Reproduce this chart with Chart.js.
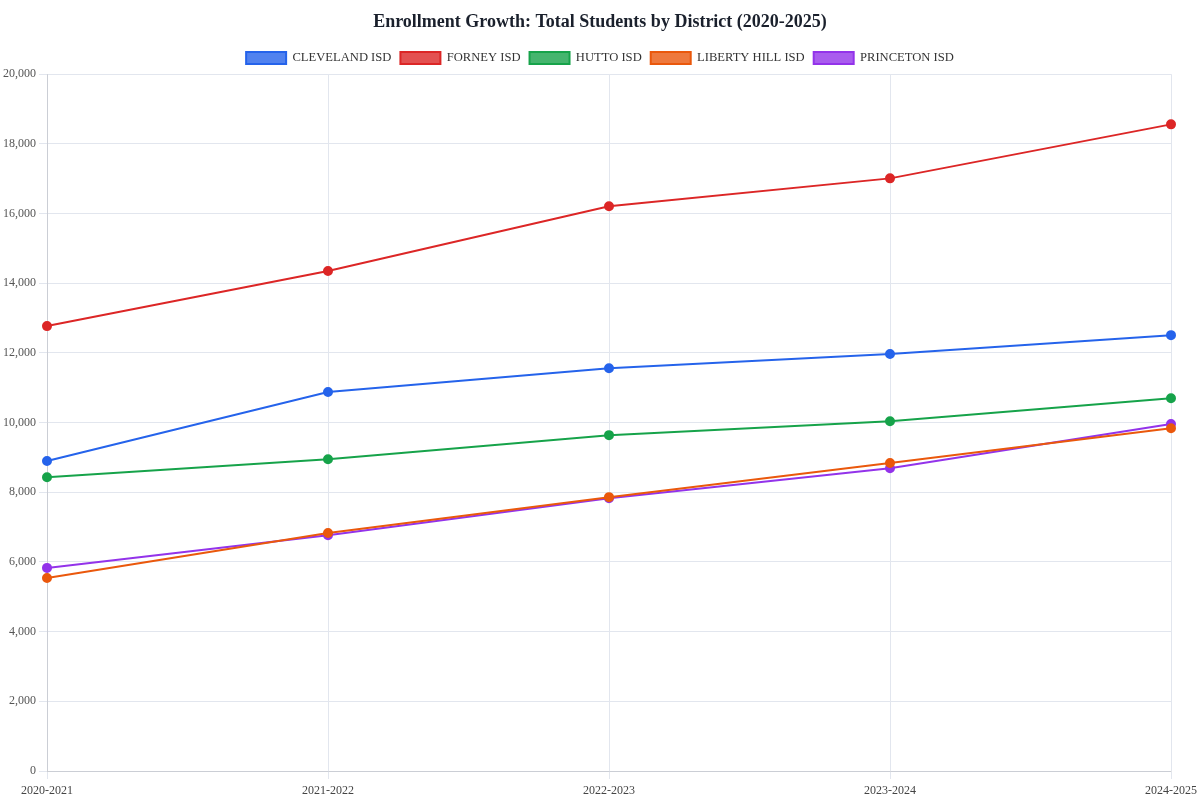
<!DOCTYPE html>
<html>
<head>
<meta charset="utf-8">
<script src="https://cdn.jsdelivr.net/npm/chart.js@4/dist/chart.umd.min.js"></script>
<style>
  html, body { margin: 0; padding: 0; background: #fff; }
  #wrap { width: 1200px; height: 800px; }
</style>
</head>
<body>
<div id="wrap"><canvas id="lineChart"></canvas></div>
<script>
const years = ['2020-2021', '2021-2022', '2022-2023', '2023-2024', '2024-2025'];
const cleveland = [8900, 10880, 11560, 11970, 12510];
const forney = [12770, 14350, 16210, 17010, 18560];
const hutto = [8430, 8950, 9640, 10040, 10700];
const libertyHill = [5540, 6830, 7860, 8840, 9840];
const princeton = [5830, 6770, 7830, 8690, 9960];

const fontFam = '"Palatino Linotype", Palatino, "Book Antiqua", "Liberation Serif", "DejaVu Serif", serif';

function serie(label, data, color, fill) {
  return {
    label: label,
    data: data,
    borderColor: color,
    backgroundColor: fill,
    pointBackgroundColor: color,
    pointBorderColor: color,
    borderWidth: 2,
    pointRadius: 4,
    tension: 0,
    fill: false
  };
}

const ctx = document.getElementById('lineChart').getContext('2d');
new Chart(ctx, {
  type: 'line',
  data: {
    labels: years,
    datasets: [
      serie('CLEVELAND ISD', cleveland, '#2563eb', 'rgba(37, 99, 235, 0.8)'),
      serie('FORNEY ISD', forney, '#dc2626', 'rgba(220, 38, 38, 0.8)'),
      serie('HUTTO ISD', hutto, '#16a34a', 'rgba(22, 163, 74, 0.8)'),
      serie('LIBERTY HILL ISD', libertyHill, '#ea580c', 'rgba(234, 88, 12, 0.8)'),
      serie('PRINCETON ISD', princeton, '#9333ea', 'rgba(147, 51, 234, 0.8)')
    ]
  },
  options: {
    responsive: true,
    maintainAspectRatio: false,
    animation: false,
    layout: { padding: { left: 0, right: 0, top: -1, bottom: -3 } },
    plugins: {
      title: {
        display: true,
        text: 'Enrollment Growth: Total Students by District (2020-2025)',
        color: '#1a202c',
        font: { family: fontFam, size: 18, weight: 'bold' },
        padding: { top: 13, bottom: 9 }
      },
      legend: {
        display: true,
        labels: {
          color: '#333',
          font: { family: fontFam, size: 12.6 },
          boxWidth: 40,
          boxHeight: 12,
          padding: 9
        }
      }
    },
    scales: {
      x: {
        grid: { color: '#e2e6ee' },
        ticks: { color: '#444', padding: 3, font: { family: fontFam, size: 12, lineHeight: 1.5 }, maxRotation: 0 }
      },
      y: {
        min: 0,
        max: 20000,
        grid: { color: '#e2e6ee' },
        ticks: {
          stepSize: 2000,
          color: '#555',
          font: { family: fontFam, size: 12 },
          callback: v => v.toLocaleString('en-US')
        }
      }
    }
  }
});
</script>
</body>
</html>
